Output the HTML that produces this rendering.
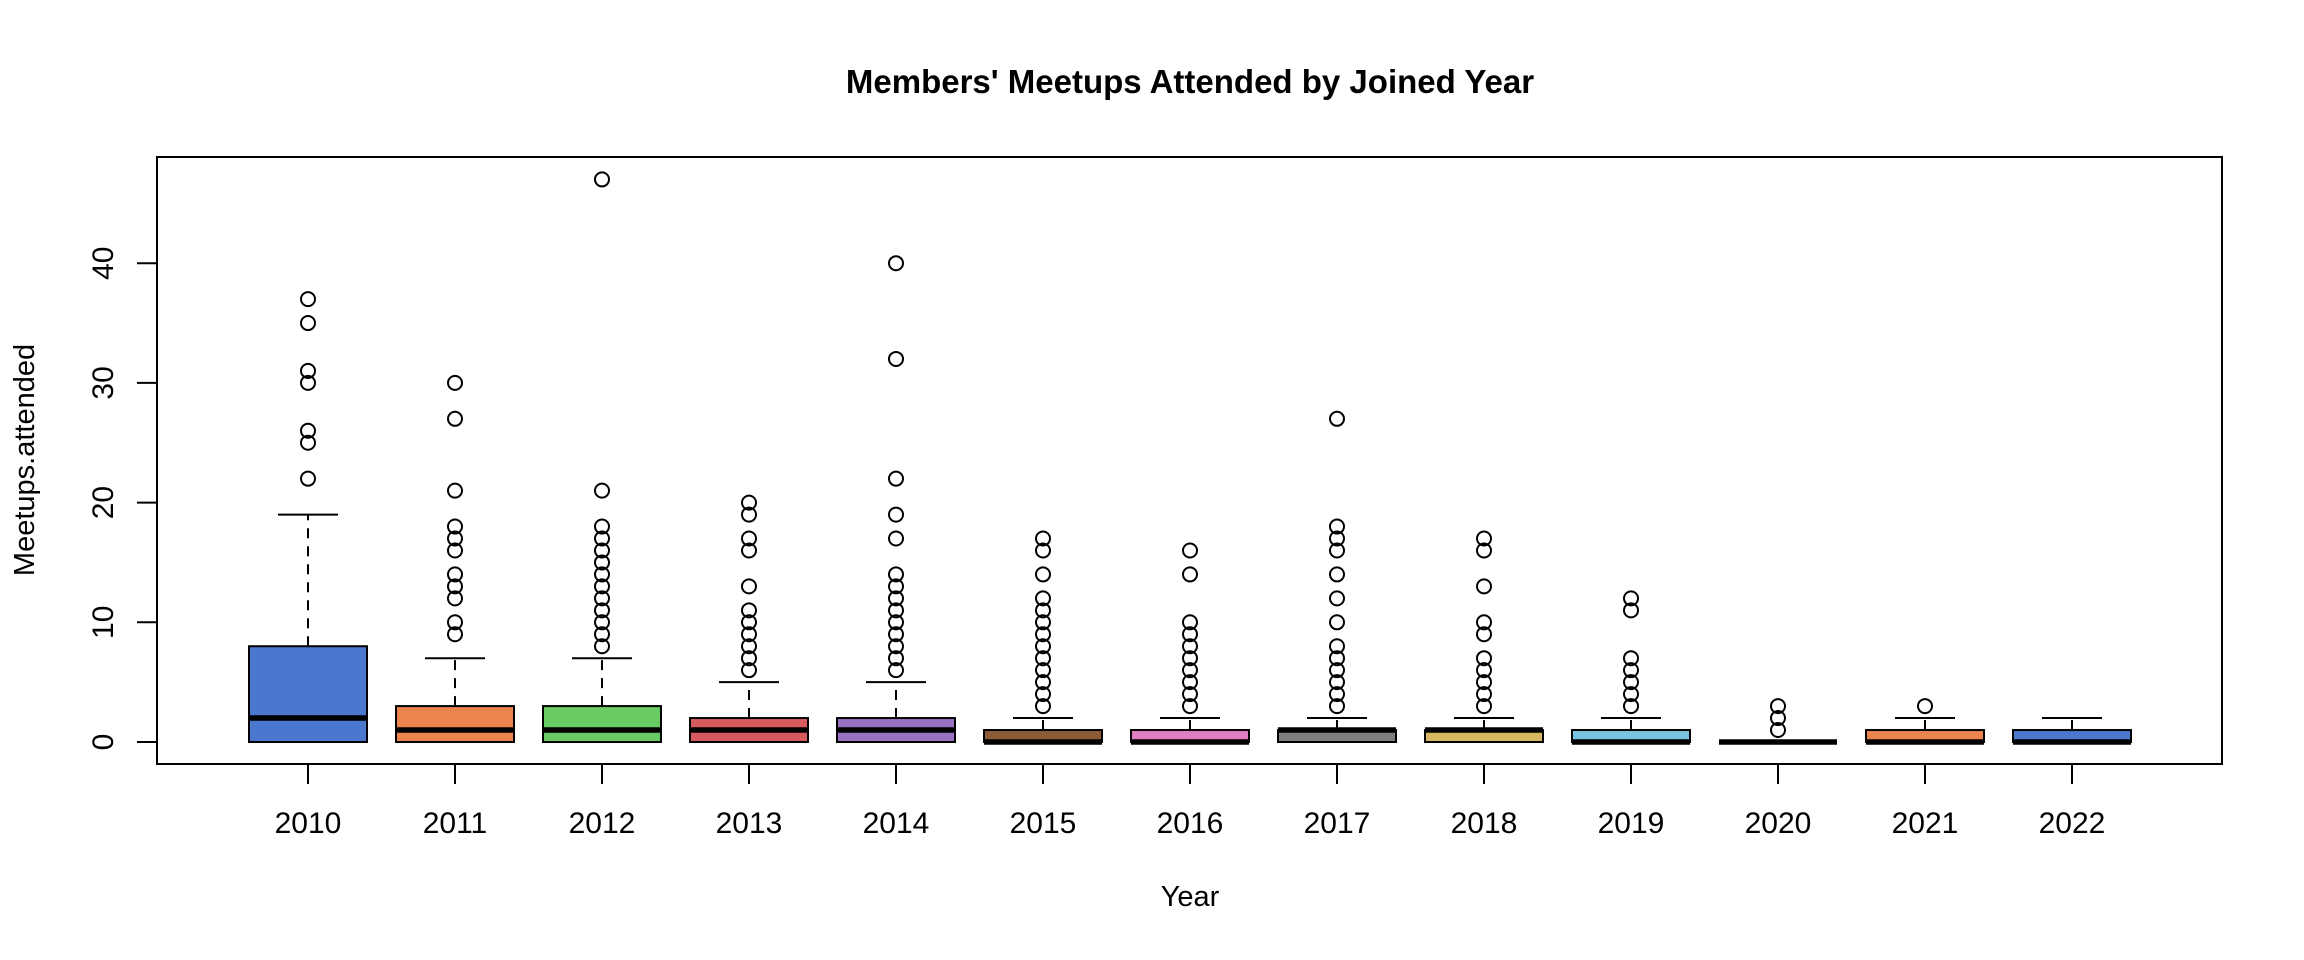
<!DOCTYPE html>
<html><head><meta charset="utf-8"><style>
html,body{margin:0;padding:0;background:#fff;}
svg{display:block;font-family:"Liberation Sans",Arial,sans-serif;}
</style></head><body>
<svg id="chart" width="2304" height="960" viewBox="0 0 2304 960" xmlns="http://www.w3.org/2000/svg">
<rect width="2304" height="960" fill="#fff"/>
<text x="1190" y="93" font-size="33" font-weight="bold" text-anchor="middle">Members' Meetups Attended by Joined Year</text>
<rect x="157" y="157" width="2065" height="607" fill="none" stroke="#000" stroke-width="2"/>
<text x="1190" y="906" font-size="29" text-anchor="middle">Year</text>
<text transform="translate(34,460) rotate(-90)" font-size="29" text-anchor="middle">Meetups.attended</text>
<g id="axes"></g>
<g id="marks"></g>
</svg>
<script>
const years = ["2010","2011","2012","2013","2014","2015","2016","2017","2018","2019","2020","2021","2022"];
const lowWhisker = [0,0,0,0,0,0,0,0,0,0,0,0,0];
const q1 = [0,0,0,0,0,0,0,0,0,0,0,0,0];
const medians = [2,1,1,1,1,0,0,1,1,0,0,0,0];
const q3 = [8,3,3,2,2,1,1,1,1,1,0,1,1];
const highWhisker = [19,7,7,5,5,2,2,2,2,2,0,2,2];
const outliers = [
 [22,25,26,30,31,35,37],
 [9,10,12,13,14,16,17,18,21,27,30],
 [8,9,10,11,12,13,14,15,16,17,18,21,47],
 [6,7,8,9,10,11,13,16,17,19,20],
 [6,7,8,9,10,11,12,13,14,17,19,22,32,40],
 [3,4,5,6,7,8,9,10,11,12,14,16,17],
 [3,4,5,6,7,8,9,10,14,16],
 [3,4,5,6,7,8,10,12,14,16,17,18,27],
 [3,4,5,6,7,9,10,13,16,17],
 [3,4,5,6,7,11,12],
 [1,2,3],
 [3],
 []
];
const colors = ["#4a78cf","#ec854d","#69cb64","#d65b5f","#9a72c4","#8b5a37","#df7fc3","#7f7f7f","#d6b860","#78c4de","#4a78cf","#ec854d","#4a78cf"];
const yTicks = [0,10,20,30,40];

const NS="http://www.w3.org/2000/svg";
const xPos = i => 308 + i*147.0;
const yPos = v => 742 - v*11.97;
function mk(tag, attrs, parent){const e=document.createElementNS(NS,tag);for(const k in attrs)e.setAttribute(k,attrs[k]);parent.appendChild(e);return e;}
const axes=document.getElementById('axes'), marks=document.getElementById('marks');

yTicks.forEach(t=>{
  const y=yPos(t);
  const tk=mk('line',{x1:137,x2:157,y1:y,y2:y,stroke:'#000','stroke-width':2},axes);
  
  
  const lb=mk('text',{transform:`translate(113,${y}) rotate(-90)`,'font-size':30,'text-anchor':'middle'},axes);
  lb.textContent=t;
  
  
});
mk('line',{x1:157,x2:157,y1:yPos(0),y2:yPos(40),stroke:'#000','stroke-width':2},axes);

years.forEach((yr,i)=>{
  const x=xPos(i);
  const tk=mk('line',{x1:x,x2:x,y1:764,y2:784,stroke:'#000','stroke-width':2},axes);
  
  
  const lb=mk('text',{x:x,y:833,'font-size':30,'text-anchor':'middle'},axes);
  lb.textContent=yr;
  
  

  const g=mk('g',{},marks);
  
  
  const hw=59, cw=30;
  if(highWhisker[i]>q3[i]) mk('line',{x1:x,x2:x,y1:yPos(q3[i]),y2:yPos(highWhisker[i]),stroke:'#000','stroke-width':2,'stroke-dasharray':'10,8'},g);
  if(lowWhisker[i]<q1[i]) mk('line',{x1:x,x2:x,y1:yPos(q1[i]),y2:yPos(lowWhisker[i]),stroke:'#000','stroke-width':2,'stroke-dasharray':'10,8'},g);
  mk('line',{x1:x-cw,x2:x+cw,y1:yPos(highWhisker[i]),y2:yPos(highWhisker[i]),stroke:'#000','stroke-width':2},g);
  mk('line',{x1:x-cw,x2:x+cw,y1:yPos(lowWhisker[i]),y2:yPos(lowWhisker[i]),stroke:'#000','stroke-width':2},g);
  const top=yPos(q3[i]), bot=yPos(q1[i]);
  mk('rect',{x:x-hw,y:top,width:2*hw,height:Math.max(bot-top,0),fill:colors[i],stroke:'#000','stroke-width':2},g);
  mk('line',{x1:x-hw,x2:x+hw,y1:yPos(medians[i]),y2:yPos(medians[i]),stroke:'#000','stroke-width':5.5},g);
  outliers[i].forEach(v=>{
    const c=mk('circle',{cx:x,cy:yPos(v),r:7,fill:'none',stroke:'#000','stroke-width':2},g);
    
    
  });
});
</script>
</body></html>
